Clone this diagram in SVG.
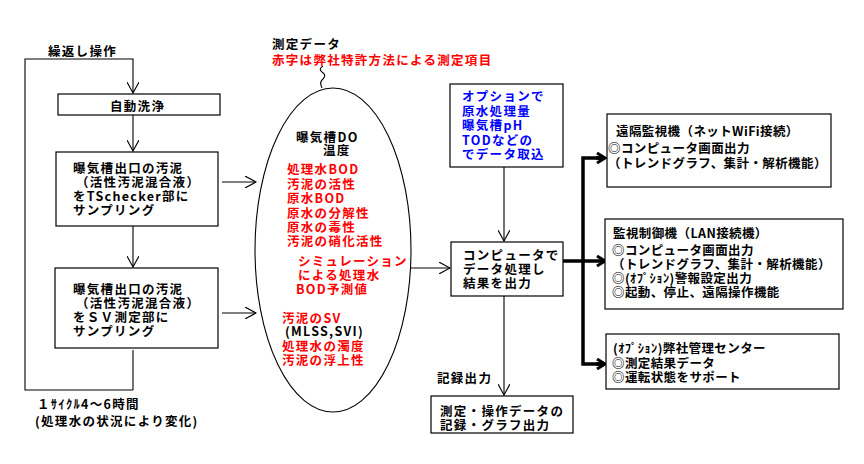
<svg xmlns="http://www.w3.org/2000/svg" width="864" height="464" viewBox="0 0 864 464">
<style>
text{font-family:"Noto Sans CJK JP","Noto Sans CJK SC",sans-serif;font-size:12.5px;font-weight:bold;fill:#000;dominant-baseline:central;letter-spacing:1.3px}
.rt{letter-spacing:0.4px}
.r{fill:#f00}
.b{fill:#00f}
.box{fill:#fff;stroke:#000;stroke-width:1.2}
.ln{fill:none;stroke:#000;stroke-width:1.1}
.thick{fill:none;stroke:#000;stroke-width:3.5}
</style>
<defs>
<marker id="open" viewBox="0 0 12 12" refX="11" refY="6" markerWidth="12" markerHeight="12" markerUnits="userSpaceOnUse" orient="auto">
<path d="M0,0 L11,6 L0,12" fill="none" stroke="#000" stroke-width="1.1"/>
</marker>
<marker id="bold" viewBox="0 0 12 12" refX="10" refY="6" markerWidth="12" markerHeight="12" markerUnits="userSpaceOnUse" orient="auto">
<path d="M2,1 L10,6 L2,11" fill="none" stroke="#000" stroke-width="3"/>
</marker>
</defs>
<rect width="864" height="464" fill="#fff"/>

<g id="connectors">
<path class="ln" d="M133,390 H25 V59 H133 V93" marker-end="url(#open)"/>
<path class="ln" d="M133,115 V151" marker-end="url(#open)"/>
<path class="ln" d="M133,226 V267" marker-end="url(#open)"/>
<path class="ln" d="M133,350 V390"/>
<path class="ln" d="M222,182 H256" marker-end="url(#open)"/>
<path class="ln" d="M222,313 H256" marker-end="url(#open)"/>
<path class="ln" d="M411,268 H450" marker-end="url(#open)"/>
<path class="ln" d="M504,167 V241" marker-end="url(#open)"/>
<path class="ln" d="M504,296 V395" marker-end="url(#open)"/>
<path class="ln" d="M323,66 q-5,3 -1,6 q5,3 1,7 q-4,3 -1,9"/>
<path class="thick" d="M563,261 H605" marker-end="url(#bold)"/>
<path class="thick" d="M605,158 H583 V364 H605"/>
<path class="thick" d="M596,158 H605" marker-end="url(#bold)"/>
<path class="thick" d="M596,364 H605" marker-end="url(#bold)"/>
</g>

<g id="loop-label">
<text x="48" y="50">繰返し操作</text>
</g>
<g id="cycle-label">
<text x="37" y="403">１ｻｲｸﾙ4～6時間</text>
<text x="35" y="420">(処理水の状況により変化)</text>
</g>

<g id="wash">
<rect class="box" x="58" y="94" width="162" height="21"/>
<text x="110" y="105">自動洗浄</text>
</g>

<g id="sample-ts">
<rect class="box" x="56" y="152" width="162" height="74"/>
<text x="73" y="167">曝気槽出口の汚泥</text>
<text x="76" y="181">（活性汚泥混合液）</text>
<text x="73" y="195">をTSchecker部に</text>
<text x="73" y="209">サンプリング</text>
</g>

<g id="sample-sv">
<rect class="box" x="55" y="268" width="163" height="80"/>
<text x="73" y="288">曝気槽出口の汚泥</text>
<text x="76" y="302">（活性汚泥混合液）</text>
<text x="73" y="316">をＳＶ測定部に</text>
<text x="73" y="330">サンプリング</text>
</g>

<g id="measure-label">
<text x="272" y="43">測定データ</text>
<text class="r" x="272" y="59">赤字は弊社特許方法による測定項目</text>
</g>

<g id="measure-data">
<ellipse cx="333" cy="250" rx="78" ry="162" fill="none" stroke="#000" stroke-width="1.1"/>
<text x="296" y="136">曝気槽DO</text>
<text x="323" y="149">温度</text>
<text class="r" x="287" y="168">処理水BOD</text>
<text class="r" x="287" y="183">汚泥の活性</text>
<text class="r" x="287" y="197">原水BOD</text>
<text class="r" x="287" y="212">原水の分解性</text>
<text class="r" x="287" y="226">原水の毒性</text>
<text class="r" x="287" y="240">汚泥の硝化活性</text>
<text class="r" x="298" y="260">シミュレーション</text>
<text class="r" x="298" y="274">による処理水</text>
<text class="r" x="296" y="288">BOD予測値</text>
<text class="r" x="282" y="317">汚泥のSV</text>
<text x="285" y="330">(MLSS,SVI)</text>
<text class="r" x="282" y="345">処理水の濁度</text>
<text class="r" x="282" y="359">汚泥の浮上性</text>
</g>

<g id="option-input">
<rect class="box" x="450" y="84" width="113" height="83"/>
<text class="b" x="462" y="95">オプションで</text>
<text class="b" x="462" y="110">原水処理量</text>
<text class="b" x="462" y="124">曝気槽pH</text>
<text class="b" x="462" y="139">TODなどの</text>
<text class="b" x="462" y="153">でデータ取込</text>
</g>

<g id="computer">
<rect class="box" x="451" y="242" width="112" height="54"/>
<text x="463" y="254">コンピュータで</text>
<text x="463" y="268">データ処理し</text>
<text x="463" y="282">結果を出力</text>
</g>

<g id="record">
<text x="437" y="377">記録出力</text>
<rect class="box" x="431" y="396" width="142" height="37"/>
<text x="440" y="410">測定・操作データの</text>
<text x="440" y="424">記録・グラフ出力</text>
</g>

<g id="remote-monitor">
<rect class="box" x="607" y="114" width="224" height="73"/>
<text class="rt" x="616" y="130">遠隔監視機（ネットWiFi接続）</text>
<text class="rt" x="608" y="147">◎コンピュータ画面出力</text>
<text class="rt" x="608" y="162">（トレンドグラフ、集計・解析機能）</text>
</g>

<g id="control-monitor">
<rect class="box" x="605" y="219" width="238" height="90"/>
<text class="rt" x="613" y="232">監視制御機（LAN接続機）</text>
<text class="rt" x="612" y="249">◎コンピュータ画面出力</text>
<text class="rt" x="612" y="263">（トレンドグラフ、集計・解析機能）</text>
<text class="rt" x="612" y="277">◎(ｵﾌﾟｼｮﾝ)警報設定出力</text>
<text class="rt" x="612" y="291">◎起動、停止、遠隔操作機能</text>
</g>

<g id="support-center">
<rect class="box" x="606" y="334" width="233" height="55"/>
<text class="rt" x="613" y="347">(ｵﾌﾟｼｮﾝ)弊社管理センター</text>
<text class="rt" x="612" y="362">◎測定結果データ</text>
<text class="rt" x="612" y="376">◎運転状態をサポート</text>
</g>
</svg>
